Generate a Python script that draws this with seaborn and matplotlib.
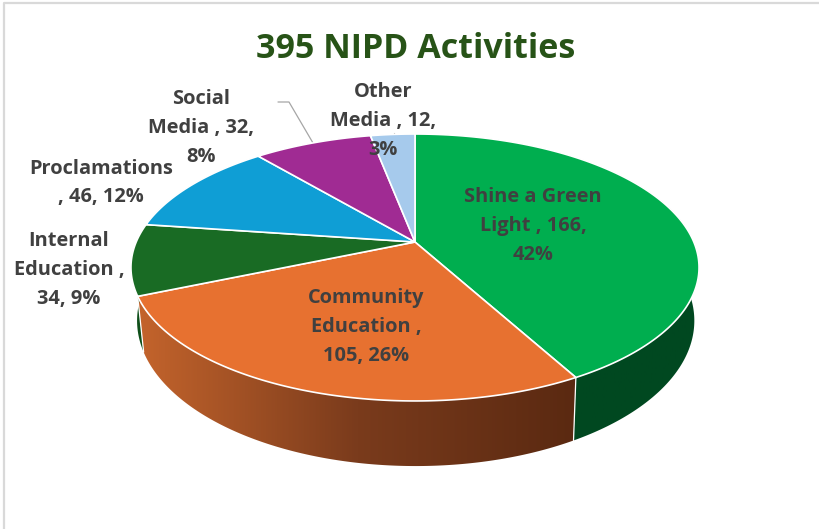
import numpy as np
import matplotlib
matplotlib.use("Agg")
import matplotlib.pyplot as plt
from matplotlib.colors import LinearSegmentedColormap
from matplotlib.patches import Polygon
import seaborn as sns

categories = ["Shine a Green Light", "Community Education", "Internal Education",
              "Proclamations", "Social Media", "Other Media"]
values = [166, 105, 34, 46, 32, 12]
percents = [42, 26, 9, 12, 8, 3]
wrapped = ["Shine a Green\nLight , {v},\n{p}%", "Community\nEducation ,\n{v}, {p}%",
           "Internal\nEducation ,\n{v}, {p}%", "Proclamations\n, {v}, {p}%",
           "Social\nMedia , {v},\n{p}%", "Other\nMedia , {v},\n{p}%"]
label_x = [533, 366, 69, 101, 201, 383]
label_y = [226, 327, 270, 183, 128, 121]

top_colors = sns.color_palette(["#00AE4F", "#E77130", "#196B24", "#0F9ED5", "#A02B93", "#A6CAEC"])
side_ramps = [["#004820", "#004820"], ["#C4642C", "#7A3B1C", "#5A2911"], ["#0F4F1A", "#0F4F1A"],
              ["#0A6A90", "#0A6A90"], ["#6B1D62", "#6B1D62"], ["#6F879E", "#6F879E"]]

sns.set_theme(style="white")
plt.rcParams["font.family"] = ["Open Sans", "DejaVu Sans"]

# perspective of the disc, in pixels
cx, cy = 415, 242
sx, sy, k = 278.8, 128.6, 0.191
bot_cx, bot_sx, bot_sy, bot_dy = 415.7, 273.5, 140, 51


def top_rim(theta):
    d = 1 + k * np.cos(theta)
    return cx + sx * np.sin(theta) / d, cy - sy * np.cos(theta) / d


def bottom_rim(theta):
    d = 1 + k * np.cos(theta)
    return bot_cx + bot_sx * np.sin(theta) / d, cy + bot_dy - bot_sy * np.cos(theta) / d


fig = plt.figure(figsize=(8.2, 5.29), dpi=100)
ax = fig.add_axes([0, 0, 1, 1])
ax.axis("off")

edges = np.radians(np.concatenate([[0], np.cumsum(values)]) / sum(values) * 360)

# chart frame, only left and top show in the screenshot
ax.plot([4, 4, 820], [529, 3, 3], color="#D9D9D9", lw=1.6, zorder=1)

# side wall, one gradient image per slice clipped to the wall shape
for i in range(len(values)):
    cmap = LinearSegmentedColormap.from_list("side", side_ramps[i])
    th = np.linspace(edges[i], edges[i + 1], 200)
    tx, ty = top_rim(th)
    bx, by = bottom_rim(th)
    wall = Polygon(np.c_[np.r_[tx, bx[::-1]], np.r_[ty, by[::-1]]], closed=True,
                   facecolor="none", edgecolor="none", transform=ax.transData)
    ax.add_patch(wall)
    img = ax.imshow(np.linspace(0, 1, 256)[None, :], cmap=cmap, aspect="auto",
                    extent=[tx.min() - 1, tx.max() + 1, 529, 0], zorder=2)
    img.set_clip_path(wall)

ax.set_xlim(0, 820)
ax.set_ylim(529, 0)

# white seams on the wall
for e in edges[1:3]:
    tx, ty = top_rim(e)
    bx, by = bottom_rim(e)
    ax.plot([tx, bx], [ty, by], color="white", lw=0.9, zorder=3)

# top face
for i in range(len(values)):
    th = np.linspace(edges[i], edges[i + 1], 200)
    tx, ty = top_rim(th)
    ax.fill(np.r_[cx, tx], np.r_[cy, ty], facecolor=top_colors[i], edgecolor="white",
            lw=1.2, joinstyle="round", zorder=4)

# leader lines
ax.plot([278, 289, 313], [102, 102, 143], color="#A6A6A6", lw=0.9, zorder=3.5)
ax.plot([394, 394], [133, 137], color="#A6A6A6", lw=0.9, zorder=3.5)

for i in range(len(values)):
    ax.text(label_x[i], label_y[i], wrapped[i].format(v=values[i], p=percents[i]),
            ha="center", va="center", ma="center", fontsize=14.4, fontweight="bold",
            color="#404040", linespacing=1.58, zorder=6)

ax.text(416, 48.5, "395 NIPD Activities", ha="center", va="center", fontsize=24.5,
        fontweight="bold", color="#275317", zorder=6)

fig.savefig("out.png", dpi=100)
